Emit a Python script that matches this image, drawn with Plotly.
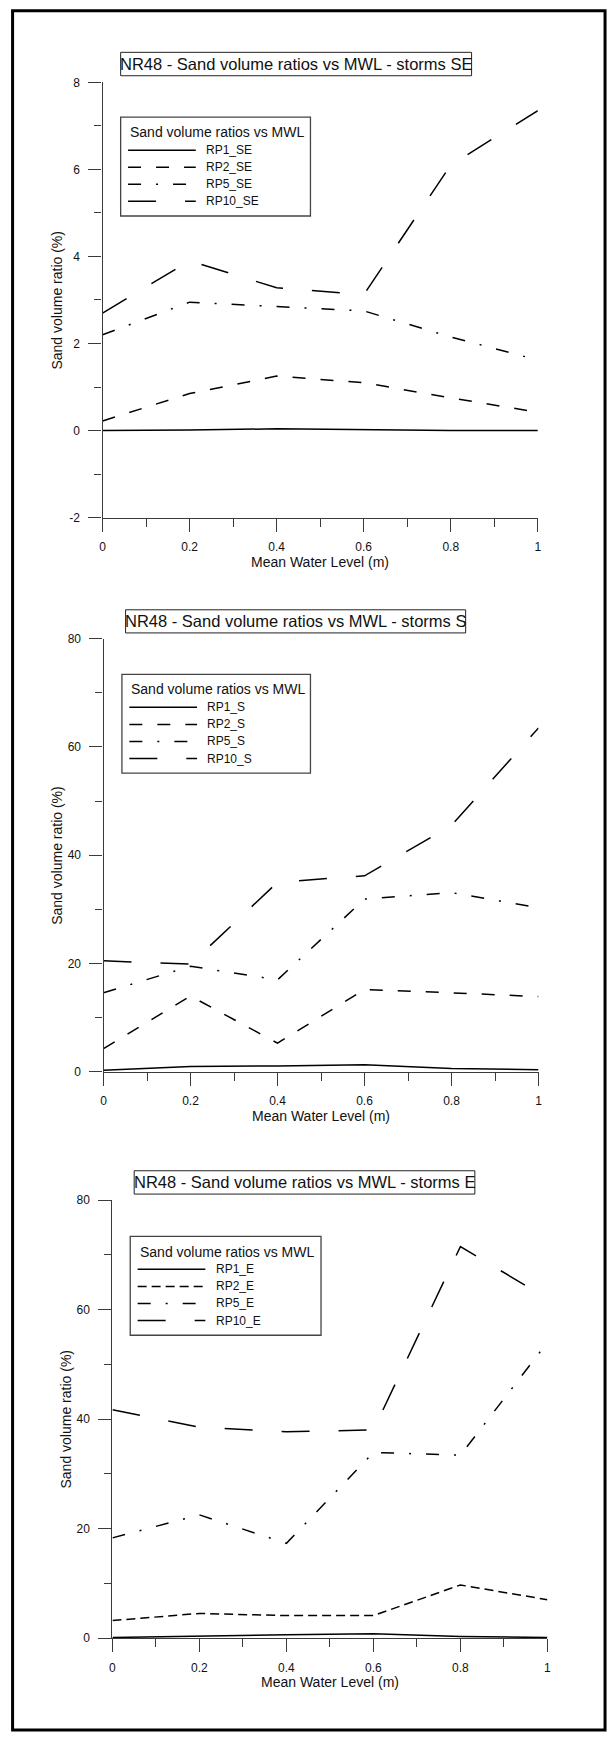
import plotly.graph_objects as go

# ---- data -------------------------------------------------------------
mwl = [0.0, 0.2, 0.4, 0.6, 0.8, 1.0]          # mean water level (m)
return_periods = ["RP1", "RP2", "RP5", "RP10"]
storms = ["SE", "S", "E"]

rp1_se = [0.0, 0.01, 0.04, 0.02, 0.0, 0.0]
rp2_se = [0.22, 0.85, 1.25, 1.1, 0.75, 0.42]
rp5_se = [2.2, 2.95, 2.85, 2.75, 2.15, 1.62]
rp10_se = [2.7, 3.9, 3.28, 3.12, 6.1, 7.35]

rp1_s = [0.3, 1.0, 1.1, 1.3, 0.6, 0.4]
rp2_s = [4.3, 14.0, 5.3, 15.2, 14.6, 13.9]
rp5_s = [14.6, 19.5, 17.0, 31.9, 33.1, 30.3]
rp10_s = [20.5, 19.9, 35.0, 36.2, 45.5, 63.5]

rp1_e = [0.1, 0.4, 0.6, 0.8, 0.3, 0.1]
rp2_e = [3.2, 4.5, 4.1, 4.1, 9.7, 7.0]
rp5_e = [18.3, 22.5, 17.3, 33.9, 33.4, 54.0]
rp10_e = [41.7, 38.5, 37.7, 38.0, 71.5, 62.0]

x_tickvals = [0, 0.2, 0.4, 0.6, 0.8, 1.0]
x_ticktext = ["0", "0.2", "0.4", "0.6", "0.8", "1"]
y_tickvals_se = [-2, 0, 2, 4, 6, 8]
y_ticktext_se = ["-2", "0", "2", "4", "6", "8"]
y_tickvals_pct = [0, 20, 40, 60, 80]
y_ticktext_pct = ["0", "20", "40", "60", "80"]

chart_title = "NR48 - Sand volume ratios vs MWL - storms "
legend_title = "Sand volume ratios vs MWL"
x_title = "Mean Water Level (m)"
y_title = "Sand volume ratio (%)"

# ---- page geometry (pixels) ------------------------------------------
W, H = 613, 1740
FONT = "Arial, Liberation Sans, Helvetica, sans-serif"
INK = "#111111"
AXIS = "#3a3a3a"


def px(x):
    return x / W


def py(y):
    return 1 - y / H


panels = [
    dict(series=[rp1_se, rp2_se, rp5_se, rp10_se],
         yrange=[-2, 8], ytv=y_tickvals_se, ytt=y_ticktext_se, yminor=[-1, 1, 3, 5, 7],
         x0=100.7, x1=541.0, ytop=76.0, ybot=514.7,
         tbox=(119.0, 45.7, 474.0, 69.3), lbox=(119.0, 111.0, 311.0, 210.7),
         dashes=["solid", "13px,15px", "13px,15px,2px,15px", "28px,29px"]),
    dict(series=[rp1_s, rp2_s, rp5_s, rp10_s],
         yrange=[0, 80], ytv=y_tickvals_pct, ytt=y_ticktext_pct, yminor=[10, 30, 50, 70],
         x0=101.7, x1=541.7, ytop=636.7, ybot=1073.5,
         tbox=(124.0, 607.7, 468.0, 631.0), lbox=(120.3, 672.7, 311.0, 772.4),
         dashes=["solid", "13px,15px", "13px,15px,2px,15px", "28px,29px"]),
    dict(series=[rp1_e, rp2_e, rp5_e, rp10_e],
         yrange=[0, 80], ytv=y_tickvals_pct, ytt=y_ticktext_pct, yminor=[10, 30, 50, 70],
         x0=110.7, x1=550.7, ytop=1202.7, ybot=1644.3,
         tbox=(132.7, 1173.2, 477.3, 1196.7), lbox=(128.7, 1239.3, 321.7, 1339.0),
         dashes=["solid", "9px,5px", "13px,15px,2px,15px", "28px,29px"]),
]

fig = go.Figure()
shapes = []
annotations = []

for i, (storm, p) in enumerate(zip(storms, panels)):
    n = "" if i == 0 else str(i + 1)
    xa, ya = "x" + n, "y" + n

    # series lines
    for rp, vals, dash in zip(return_periods, p["series"], p["dashes"]):
        fig.add_trace(go.Scatter(
            x=mwl, y=vals, mode="lines", name=f"{rp}_{storm}",
            line=dict(color="#000000", width=1.5, dash=dash),
            xaxis=xa, yaxis=ya, showlegend=False, hoverinfo="x+y+name"))

    tick_common = dict(showline=True, linecolor=AXIS, linewidth=1.3,
                       ticks="outside", tickcolor=AXIS, tickwidth=1.3,
                       showgrid=False, zeroline=False,
                       tickfont=dict(family=FONT, size=12, color=INK))
    fig.update_layout(**{
        "xaxis" + n: dict(domain=[px(p["x0"]), px(p["x1"])], range=[0, 1],
                          anchor=ya, tickmode="array", tickvals=x_tickvals,
                          ticktext=x_ticktext, ticklen=13, ticklabelstandoff=5,
                          minor=dict(ticks="outside", ticklen=8, tickcolor=AXIS,
                                     tickwidth=1.3, tickvals=[0.1, 0.3, 0.5, 0.7, 0.9]),
                          **tick_common),
        "yaxis" + n: dict(domain=[py(p["ybot"]), py(p["ytop"])], range=p["yrange"],
                          anchor=xa, tickmode="array", tickvals=p["ytv"],
                          ticktext=p["ytt"], ticklen=13, ticklabelstandoff=6,
                          minor=dict(ticks="outside", ticklen=7, tickcolor=AXIS,
                                     tickwidth=1.3, tickvals=p["yminor"]),
                          **tick_common),
    })

    # axis titles
    annotations.append(dict(
        xref="paper", yref="paper", x=px((p["x0"] + p["x1"]) / 2), y=py(p["ybot"] + 44.6),
        text=x_title, showarrow=False, xanchor="center", yanchor="middle",
        font=dict(family=FONT, size=14, color=INK)))
    annotations.append(dict(
        xref="paper", yref="paper", x=px(p["x0"] - 46.5), y=py((p["ytop"] + p["ybot"]) / 2),
        text=y_title, showarrow=False, textangle=-90, xanchor="center", yanchor="middle",
        font=dict(family=FONT, size=14, color=INK)))

    # boxed chart title
    tx0, ty0, tx1, ty1 = p["tbox"]
    shapes.append(dict(type="rect", xref="paper", yref="paper",
                       x0=px(tx0), x1=px(tx1), y0=py(ty1), y1=py(ty0),
                       line=dict(color="#222222", width=1), fillcolor="rgba(0,0,0,0)"))
    annotations.append(dict(
        xref="paper", yref="paper", x=px((tx0 + tx1) / 2), y=py((ty0 + ty1) / 2),
        text=chart_title + storm, showarrow=False, xanchor="center", yanchor="middle",
        font=dict(family=FONT, size=16.5, color=INK)))

    # boxed key
    lx0, ly0, lx1, ly1 = p["lbox"]
    shapes.append(dict(type="rect", xref="paper", yref="paper",
                       x0=px(lx0), x1=px(lx1), y0=py(ly1), y1=py(ly0),
                       line=dict(color="#444444", width=1.3), fillcolor="rgba(0,0,0,0)"))
    annotations.append(dict(
        xref="paper", yref="paper", x=px(lx0 + 7.5), y=py(ly0 + 15.3),
        text=legend_title, showarrow=False, xanchor="left", yanchor="middle",
        font=dict(family=FONT, size=14, color=INK)))
    for k, (rp, dash) in enumerate(zip(return_periods, p["dashes"])):
        yy = ly0 + 33.3 + k * 17.2
        shapes.append(dict(type="line", xref="paper", yref="paper",
                           x0=px(lx0 + 7.5), x1=px(lx0 + 76), y0=py(yy), y1=py(yy),
                           line=dict(color="#000000", width=1.5, dash=dash)))
        annotations.append(dict(
            xref="paper", yref="paper", x=px(lx0 + 84.3), y=py(yy),
            text=f"{rp}_{storm}", showarrow=False, xanchor="left", yanchor="middle",
            font=dict(family=FONT, size=12, color=INK)))

# outer frame
shapes.append(dict(type="rect", xref="paper", yref="paper",
                   x0=px(9.7), x1=px(609.0), y0=py(1737.0), y1=py(3.7),
                   line=dict(color="#000000", width=3), fillcolor="rgba(0,0,0,0)"))

fig.update_layout(
    width=W, height=H, margin=dict(l=0, r=0, t=0, b=0),
    paper_bgcolor="#ffffff", plot_bgcolor="#ffffff",
    font=dict(family=FONT, color=INK),
    shapes=shapes, annotations=annotations, showlegend=False,
)

fig.write_html("out.html")
